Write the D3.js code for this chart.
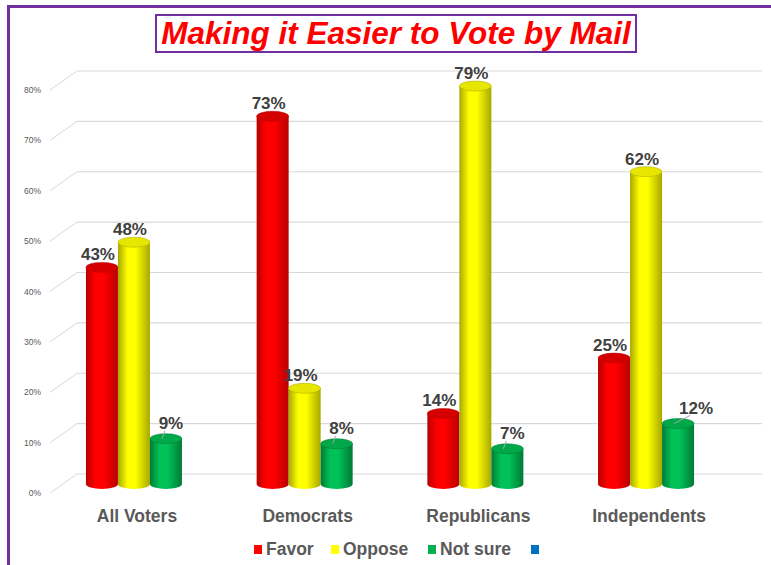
<!DOCTYPE html>
<html>
<head>
<meta charset="utf-8">
<script src="https://cdn.jsdelivr.net/npm/d3@7"></script>
<style>
  html, body { margin: 0; padding: 0; background: #fff; }
  svg { display: block; font-family: "Liberation Sans", Arial, sans-serif; }
</style>
</head>
<body>
<svg id="chart" width="771" height="565"></svg>
<script>
// chart data
const categories = ['All Voters', 'Democrats', 'Republicans', 'Independents'];
const seriesNames = ['Favor', 'Oppose', 'Not sure'];
const favor = [43, 73, 14, 25];
const oppose = [48, 19, 79, 62];
const notSure = [9, 8, 7, 12];
const yTicks = [0, 10, 20, 30, 40, 50, 60, 70, 80];

const seriesValues = [favor, oppose, notSure];
const palette = {
	'Favor': { mid: '#ff0000', edge: '#b80000', top: '#d40000' },
	'Oppose': { mid: '#ffff00', edge: '#a8a800', top: '#e6e600' },
	'Not sure': { mid: '#00c257', edge: '#007a36', top: '#00a84a' },
};
const legendColors = ['#ff0000', '#ffff00', '#00b050', '#0070c0'];

const svg = d3.select('#chart');
const defs = svg.append('defs');

// horizontal shading for each cylinder
seriesNames.forEach((s, i) => {
	const c = palette[s];
	const g = defs.append('linearGradient')
		.attr('id', 'grad' + i)
		.attr('x1', '0%').attr('x2', '100%')
		.attr('y1', '0%').attr('y2', '0%');
	g.append('stop').attr('offset', '0%').attr('stop-color', c.edge);
	g.append('stop').attr('offset', '30%').attr('stop-color', c.mid);
	g.append('stop').attr('offset', '55%').attr('stop-color', c.mid);
	g.append('stop').attr('offset', '100%').attr('stop-color', c.edge);
});

// outer frame
svg.append('rect')
	.attr('x', 8.5).attr('y', 6.5)
	.attr('width', 780).attr('height', 580)
	.attr('fill', 'none')
	.attr('stroke', '#7030a0')
	.attr('stroke-width', 3);

// scales
const x = d3.scaleBand().domain(categories).range([48.6, 731.4]);
const xs = d3.scaleBand().domain(seriesNames)
	.range([x.bandwidth() / 2 - 48, x.bandwidth() / 2 + 48]);
const y = d3.scaleLinear().domain([0, 80]).range([484, 81]);

const backDy = -10;
const frontDy = 9;
const wallLeft = 77;
const frontLeft = 50;
const wallRight = 762;

// gridlines
const grid = svg.append('g').attr('class', 'grid');
grid.selectAll('line.back')
	.data(yTicks)
	.enter()
	.append('line')
	.attr('x1', wallLeft).attr('x2', wallRight)
	.attr('y1', (d) => y(d) + backDy)
	.attr('y2', (d) => y(d) + backDy)
	.attr('stroke', '#d9d9d9')
	.attr('stroke-width', 1.2);
grid.selectAll('line.side')
	.data(yTicks)
	.enter()
	.append('line')
	.attr('x1', frontLeft).attr('x2', wallLeft)
	.attr('y1', (d) => y(d) + frontDy)
	.attr('y2', (d) => y(d) + backDy)
	.attr('stroke', '#d9d9d9')
	.attr('stroke-width', 1);

// y tick labels
svg.append('g')
	.selectAll('text')
	.data(yTicks)
	.enter()
	.append('text')
	.attr('x', 41)
	.attr('y', (d) => y(d) + frontDy + 3)
	.attr('text-anchor', 'end')
	.attr('font-size', '8.5px')
	.attr('fill', '#595959')
	.text((d) => d + '%');

// bars
const bw = xs.bandwidth();
const rx = bw / 2;
const ry = 5;
const bars = [];
categories.forEach((cat, ci) => {
	seriesNames.forEach((s, si) => {
		bars.push({ cat, s, si, v: seriesValues[si][ci] });
	});
});

function cylinderBody(cx, yTop, yBot) {
	return `M${cx - rx},${yTop} L${cx - rx},${yBot} ` +
		`A${rx},${ry} 0 0 0 ${cx + rx},${yBot} ` +
		`L${cx + rx},${yTop} Z`;
}

const barG = svg.append('g').attr('class', 'bars');
const cyl = barG.selectAll('g.cyl')
	.data(bars)
	.enter()
	.append('g')
	.attr('class', 'cyl');

cyl.append('path')
	.attr('d', (d) => {
		const cx = x(d.cat) + xs(d.s) + rx;
		return cylinderBody(cx, y(d.v), y(0));
	})
	.attr('fill', (d) => `url(#grad${d.si})`);

cyl.append('ellipse')
	.attr('cx', (d) => x(d.cat) + xs(d.s) + rx)
	.attr('cy', (d) => y(d.v))
	.attr('rx', rx)
	.attr('ry', ry)
	.attr('fill', (d) => palette[d.s].top)
	.attr('stroke', (d) => palette[d.s].edge)
	.attr('stroke-width', 0.5);

// leader lines for the short green bars
const leaderDx = (d) => (d.v >= 10 ? 18 : 5);
cyl.filter((d) => d.s === 'Not sure')
	.append('line')
	.attr('x1', (d) => x(d.cat) + xs(d.s) + rx - 4)
	.attr('y1', (d) => y(d.v))
	.attr('x2', (d) => x(d.cat) + xs(d.s) + rx + leaderDx(d) - 6)
	.attr('y2', (d) => y(d.v) - 8)
	.attr('stroke', '#a6a6a6')
	.attr('stroke-width', 1);

// value labels
cyl.append('text')
	.attr('x', (d) => {
		const cx = x(d.cat) + xs(d.s) + rx;
		return d.s === 'Not sure' ? cx + leaderDx(d) : cx - 4;
	})
	.attr('y', (d) => y(d.v) - (d.s === 'Not sure' ? 10 : 7))
	.attr('text-anchor', 'middle')
	.attr('font-size', '17px')
	.attr('font-weight', 'bold')
	.attr('fill', '#404040')
	.text((d) => d.v + '%');

// category labels
svg.append('g')
	.selectAll('text')
	.data(categories)
	.enter()
	.append('text')
	.attr('x', (d) => x(d) + x.bandwidth() / 2 + 3)
	.attr('y', 522)
	.attr('text-anchor', 'middle')
	.attr('font-size', '17.5px')
	.attr('font-weight', 'bold')
	.attr('fill', '#595959')
	.text((d) => d);

// legend
const legendItems = seriesNames.concat(['']);
const legendX = [254, 331, 428, 531];
const legend = svg.append('g').attr('class', 'legend');
const li = legend.selectAll('g')
	.data(legendItems)
	.enter()
	.append('g')
	.attr('transform', (d, i) => `translate(${legendX[i]}, 549)`);
li.append('rect')
	.attr('x', 0).attr('y', -4)
	.attr('width', 8).attr('height', 9)
	.attr('fill', (d, i) => legendColors[i]);
li.append('text')
	.attr('x', 12)
	.attr('y', 6)
	.attr('font-size', '17.5px')
	.attr('font-weight', 'bold')
	.attr('fill', '#595959')
	.text((d) => d);

// title
svg.append('rect')
	.attr('x', 156).attr('y', 15)
	.attr('width', 480).attr('height', 37)
	.attr('fill', '#fff')
	.attr('stroke', '#7030a0')
	.attr('stroke-width', 2);
svg.append('text')
	.attr('x', 396)
	.attr('y', 44)
	.attr('text-anchor', 'middle')
	.attr('font-size', '31.5px')
	.attr('font-weight', 'bold')
	.attr('font-style', 'italic')
	.attr('fill', '#ff0000')
	.text('Making it Easier to Vote by Mail');
</script>
</body>
</html>
